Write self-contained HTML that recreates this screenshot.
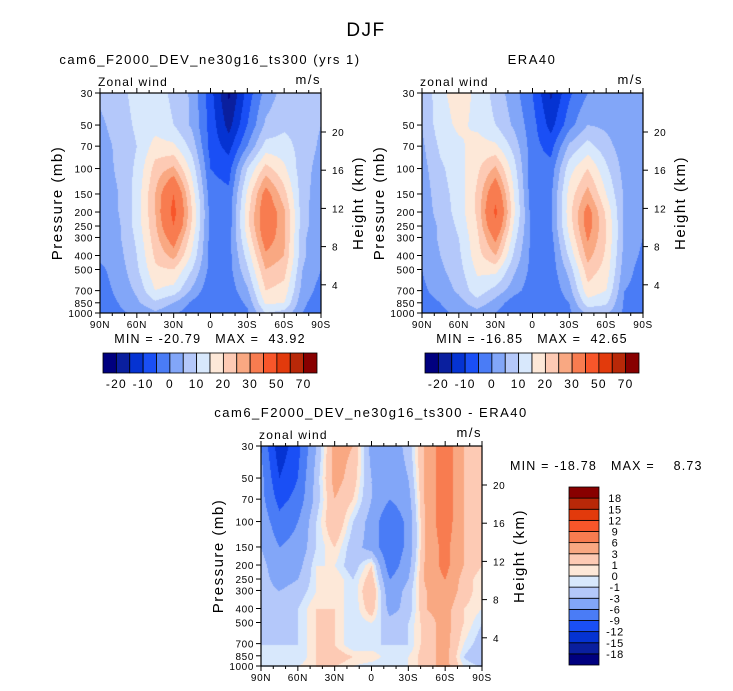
<!DOCTYPE html>
<html><head><meta charset="utf-8">
<style>
html,body{margin:0;padding:0;background:#fff;}
#root{position:relative;width:733px;height:691px;overflow:hidden;font-family:"Liberation Sans",sans-serif;}
canvas{position:absolute;}
svg{position:absolute;left:0;top:0;}
text{white-space:pre;}
</style></head>
<body>
<div id="root">
<canvas id="c1" width="221" height="220" style="left:100px;top:93px"></canvas>
<canvas id="c2" width="221" height="220" style="left:422px;top:93px"></canvas>
<canvas id="c3" width="221" height="221" style="left:261px;top:446px"></canvas>
<svg id="ov" width="733" height="691"></svg>
</div>
<script>
const lats=[90,75,60,45,30,15,0,-15,-30,-45,-60,-75,-90];
const levels=[30,50,70,100,150,200,250,300,400,500,700,850,1000];
const model=[
[6,8,12,12,9,4,-8,-21,-8,2,7,8,5],
[4,7,11,13,10,4,-7,-17,-5,6,9,8,5],
[3,6,10,17,16,8,-7,-12,0,12,12,8,4],
[2,6,11,22,26,13,-5,-7,10,22,16,7,3],
[1,5,12,25,40,18,-3,-4,16,33,22,7,2],
[1,5,12,25,43,20,-2,-3,18,36,26,7,1],
[1,4,12,24,40,19,-2,-3,18,36,26,7,1],
[1,4,11,23,34,17,-2,-2,16,34,26,6,1],
[1,3,10,21,27,14,-2,-2,12,29,25,6,1],
[-1,2,9,19,20,10,-2,-2,9,25,22,5,0],
[-2,1,6,15,13,4,-4,-3,4,20,18,3,-2],
[-2,0,4,9,5,-1,-5,-4,1,16,15,1,-3],
[-3,-1,1,4,1,-3,-4,-3,-1,10,8,0,-3]];
const era=[
[5,14,17,14,8,2,-5,-16,-6,0,1,2,2],
[5,13,16,14,10,4,-3,-12,-2,5,4,1,1],
[4,11,14,17,16,8,-3,-7,6,12,7,2,1],
[3,9,13,19,26,12,-4,-3,13,20,11,3,1],
[2,8,12,21,37,15,-4,-1,17,27,15,4,1],
[2,7,12,21,42,16,-3,-1,18,33,19,4,1],
[1,6,11,20,38,14,-2,-1,17,33,20,4,1],
[1,6,10,19,32,12,-2,-2,15,31,20,4,0],
[0,5,9,18,25,9,-2,-3,11,27,19,3,-1],
[0,4,8,16,17,6,-2,-3,7,23,18,2,-2],
[-1,2,6,13,8,2,-3,-4,3,18,15,0,-2],
[-2,0,3,8,3,-3,-4,-4,0,13,11,-1,-2],
[-3,-1,1,3,0,-5,-3,-3,-1,6,6,-1,-2]];
const diff=[
[-6,-14,-10,-3,4,3,-4,-5,-2,4,8,3,1],
[-5,-12,-9,-2,4,2,-3,-5,-3,4,8,3,1],
[-5,-10,-8,-2,3,1,-3,-6,-4,4,8,3,1],
[-4,-8,-6,-1,3,-1,-4,-9,-5,4,8,3,1],
[-3,-6,-5,-1,1,-2,-4,-9,-5,4,7,3,1],
[-2,-5,-4,0,0,-2,1,-8,-4,4,7,3,1],
[-2,-4,-3,0,1,-1,2,-6,-3,4,6,2,0],
[-2,-3,-2,0,1,-1,3,-5,-2,3,5,2,0],
[-1,-2,-1,1,1,-1,2,-4,-2,3,4,1,0],
[-1,-2,-1,1,1,-1,0,-2,-1,2,4,1,-1],
[-1,-1,-1,1,1,-1,-1,-1,-1,2,4,0,-2],
[-1,-1,-1,1,2,1,1,-1,0,2,4,-1,-3],
[-1,-1,0,1,1,0,-1,-1,0,2,4,0,-1]];
const fullBounds=[-20,-15,-10,-5,0,5,10,15,20,25,30,40,50,60,70];
const fullLabels=["-20","-10","0","10","20","30","50","70"];
const diffBounds=[-18,-15,-12,-9,-6,-3,-1,0,1,3,6,9,12,15,18];
const pTicks=[30,50,70,100,150,200,250,300,400,500,700,850,1000];
const latTicks=[90,60,30,0,-30,-60,-90];
const latTickLabels=["90N","60N","30N","0","30S","60S","90S"];
const kmTicks=[4,8,12,16,20];
const colors=["#00007f","#0a1f9e","#0533d2","#1a4ff5","#4a7cf6","#82a6f8","#b4c8fa","#d8e8fc","#fde8d8","#fdcab4","#f9a882","#f87c50","#f8562a","#e23a0c","#b82808","#880000"];

const W=221,H=220;
const xOf=lat=>(90-lat)/180*W;
const yOf=p=>Math.log(p/30)/Math.log(1000/30)*H;
const yKm=z=>230-9.55*z;
function rgb(h){return [parseInt(h.slice(1,3),16),parseInt(h.slice(3,5),16),parseInt(h.slice(5,7),16)];}
function draw(id,field,bounds){
  const cv=document.getElementById(id),ctx=cv.getContext('2d');
  const w=cv.width,h=cv.height,img=ctx.createImageData(w,h);
  const lp=levels.map(p=>Math.log(p));
  const cols=colors.map(rgb);
  for(let py=0;py<h;py++){
    const p=Math.exp(Math.log(30)+(py+0.5)/h*Math.log(1000/30));
    const l=Math.log(p);let j=0;while(j<lp.length-2&&l>lp[j+1])j++;
    const ty=Math.min(1,Math.max(0,(l-lp[j])/(lp[j+1]-lp[j])));
    for(let px=0;px<w;px++){
      const lat=90-(px+0.5)/w*180;
      let i=0;while(i<lats.length-2&&lat<lats[i+1])i++;
      const tx=(lats[i]-lat)/(lats[i]-lats[i+1]);
      const v=(field[j][i]*(1-tx)+field[j][i+1]*tx)*(1-ty)+(field[j+1][i]*(1-tx)+field[j+1][i+1]*tx)*ty;
      let k=0;while(k<bounds.length&&v>=bounds[k])k++;
      const c=cols[k],o=(py*w+px)*4;
      img.data[o]=c[0];img.data[o+1]=c[1];img.data[o+2]=c[2];img.data[o+3]=255;
    }
  }
  ctx.putImageData(img,0,0);
}
draw('c1',model,fullBounds);draw('c2',era,fullBounds);draw('c3',diff,diffBounds);

const svg=document.getElementById('ov'),NS="http://www.w3.org/2000/svg";
function el(tag,attrs,name,text){const e=document.createElementNS(NS,tag);for(const k in attrs)e.setAttribute(k,attrs[k]);


if(text!==undefined)e.textContent=text;svg.appendChild(e);return e;}
function txt(x,y,s,size,anchor,name,rot,ls){const a={x:x,y:y,'font-size':size,'text-anchor':anchor||'start',fill:'#000','font-family':'Liberation Sans, sans-serif','letter-spacing':(ls===undefined?0.6:ls)};if(rot)a.transform='rotate(-90 '+x+' '+y+')';return el('text',a,name,s);}

txt(366,36,'DJF',19,'middle','figure-title',false,1.5);

function axes(x0,y0,title,lbl,pfx){
  txt(x0+110,y0-29,title,13,'middle',pfx+'-title',false,1.5);
  txt(x0-2,y0-7,lbl,12,'start',pfx+'-variable-label',false,1.2);
  txt(x0+221,y0-9,'m/s',13,'end',pfx+'-units-label',false,1.5);
  el('rect',{x:x0,y:y0,width:221,height:H,fill:'none',stroke:'#000','stroke-width':1.2},pfx+'-frame');
  latTicks.forEach((lt,i)=>{const x=x0+xOf(lt);
    el('line',{x1:x,y1:y0+H,x2:x,y2:y0+H+5,stroke:'#000'},pfx+'-x-tick');
    el('line',{x1:x,y1:y0,x2:x,y2:y0-5,stroke:'#000'},pfx+'-x-tick-top');
    txt(x,y0+H+15,latTickLabels[i],10,'middle',pfx+'-x-tick-label');});
  for(let lt=80;lt>-90;lt-=10){if(lt%30===0)continue;const x=x0+xOf(lt);
    el('line',{x1:x,y1:y0+H,x2:x,y2:y0+H+3,stroke:'#000'},pfx+'-x-minor-tick');
    el('line',{x1:x,y1:y0,x2:x,y2:y0-3,stroke:'#000'},pfx+'-x-minor-tick-top');}
  pTicks.forEach(p=>{const y=y0+yOf(p);
    el('line',{x1:x0,y1:y,x2:x0-5,y2:y,stroke:'#000'},pfx+'-y-tick');
    txt(x0-7,y+4,String(p),10,'end',pfx+'-y-tick-label');});
  kmTicks.forEach(z=>{const y=y0+yKm(z);
    el('line',{x1:x0+221,y1:y,x2:x0+226,y2:y,stroke:'#000'},pfx+'-height-tick');
    txt(x0+232,y+4,String(z),10,'start',pfx+'-height-tick-label');});
  txt(x0-38,y0+110,'Pressure (mb)',15,'middle',pfx+'-y-axis-title',true,1.5);
  txt(x0+263,y0+110,'Height (km)',15,'middle',pfx+'-height-axis-title',true,1.5);
}
axes(100,93,'cam6_F2000_DEV_ne30g16_ts300 (yrs 1)','Zonal wind','model');
axes(422,93,'ERA40','zonal wind','era40');
axes(261,446,'cam6_F2000_DEV_ne30g16_ts300 - ERA40','zonal wind','diff');
txt(210,343,'MIN = -20.79   MAX =  43.92',12.5,'middle','model-min-max',false,1.2);
txt(532,343,'MIN = -16.85   MAX =  42.65',12.5,'middle','era40-min-max',false,1.2);
txt(510,470,'MIN = -18.78   MAX =    8.73',12.5,'start','diff-min-max',false,1.2);

function hbar(x0,y0,w,h,pfx){const bw=w/16;
  colors.forEach((c,i)=>el('rect',{x:x0+i*bw,y:y0,width:bw,height:h,fill:c,stroke:'#000','stroke-width':0.8},pfx+'-colorbar-box'));
  fullLabels.forEach((s,i)=>txt(x0+(1+2*i)*bw,y0+h+15,s,12,'middle',pfx+'-colorbar-label',false,1.2));}
hbar(103,353,214,20,'model');hbar(425,353,214,20,'era40');
(function(){const x0=569,y0=487,w=30,h=178,bh=h/16;
  colors.forEach((c,i)=>el('rect',{x:x0,y:y0+h-(i+1)*bh,width:w,height:bh,fill:c,stroke:'#000','stroke-width':0.8},'diff-colorbar-box'));
  diffBounds.forEach((b,i)=>txt(x0+w+16,y0+h-(i+1)*bh+4,String(b),11,'middle','diff-colorbar-label'));})();
</script>
</body></html>
